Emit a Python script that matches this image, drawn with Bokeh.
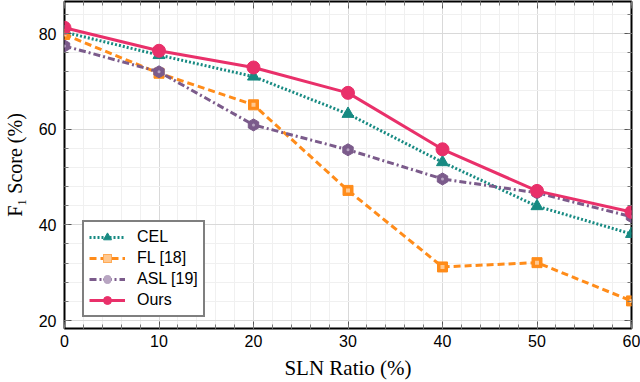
from bokeh.plotting import figure
from bokeh.models import (LinearAxis, SingleIntervalTicker, Range1d, Legend, LegendItem,
                          ColumnDataSource, CustomJSTickFormatter)
from bokeh.embed import file_html
from bokeh.resources import INLINE

# ---- data ----
sln_ratio = [0, 10, 20, 30, 40, 50, 60]
cel = [80.3, 75.5, 71.0, 63.2, 53.1, 43.9, 38.1]
fl = [79.8, 71.7, 65.1, 47.2, 31.2, 32.1, 24.1]
asl = [77.4, 72.0, 60.9, 55.7, 49.6, 46.7, 41.7]
ours = [81.2, 76.4, 72.9, 67.6, 55.8, 47.1, 42.7]
series_names = ["CEL", "FL [18]", "ASL [19]", "Ours"]

x_label = "SLN Ratio (%)"
y_label = "F\u2081 Score (%)"

TEAL = "#178a82"
ORANGE = "#ff8c1a"
PURPLE = "#7b5b8b"
PINK = "#e9306a"

src = ColumnDataSource(dict(x=sln_ratio, cel=cel, fl=fl, asl=asl, ours=ours))

p = figure(width=640, height=382, output_backend="svg", toolbar_location=None,
           x_range=Range1d(0, 60), y_range=Range1d(18.33, 86.7),
           min_border_left=61, min_border_top=1, min_border_right=9, min_border_bottom=53,
           x_axis_location=None, y_axis_location=None)
p.background_fill_color = "white"
p.border_fill_color = "white"
p.outline_line_color = "black"
p.outline_line_width = 2

xt = SingleIntervalTicker(interval=10, num_minor_ticks=5)
yt = SingleIntervalTicker(interval=20, num_minor_ticks=5)

def style_axis(ax, labels=True):
    ax.axis_line_color = None
    ax.major_tick_in = 7
    ax.major_tick_out = 0
    ax.minor_tick_in = 4
    ax.minor_tick_out = 0
    ax.major_tick_line_color = "#555555"
    ax.minor_tick_line_color = "#777777"
    if labels:
        ax.major_label_text_font = "Liberation Sans"
        ax.major_label_text_font_size = "16px"
        ax.major_label_text_color = "black"
        ax.axis_label_text_font = "Liberation Serif"
        ax.axis_label_text_font_size = "21px"
        ax.axis_label_text_font_style = "normal"
        ax.axis_label_text_color = "black"
    else:
        ax.formatter = CustomJSTickFormatter(code="return ''")
        ax.major_label_standoff = 0

xb = LinearAxis(ticker=xt, axis_label=x_label)
style_axis(xb)
xb.major_label_standoff = 6
xb.axis_label_standoff = 6
p.add_layout(xb, "below")

yl = LinearAxis(ticker=yt, axis_label=y_label)
style_axis(yl)
yl.axis_label_text_font_size = "20px"
yl.major_label_standoff = 8
yl.axis_label_standoff = 10
p.add_layout(yl, "left")

xa = LinearAxis(ticker=xt)
style_axis(xa, labels=False)
p.add_layout(xa, "above")
yr = LinearAxis(ticker=yt)
style_axis(yr, labels=False)
p.add_layout(yr, "right")

p.xgrid.ticker = xt
p.ygrid.ticker = yt
for g in (p.xgrid, p.ygrid):
    g.grid_line_color = "#d9d9d9"
    g.grid_line_width = 1
    g.minor_grid_line_color = "#f0f0f0"
    g.minor_grid_line_width = 1

# series
l_cel = p.line("x", "cel", source=src, line_color=TEAL, line_width=3, line_dash="2 2")
m_cel = p.scatter("x", "cel", source=src, marker="triangle", size=12, fill_color=TEAL, line_color=TEAL)

l_fl = p.line("x", "fl", source=src, line_color=ORANGE, line_width=3, line_dash="7 4")
m_fl = p.scatter("x", "fl", source=src, marker="square", size=10, fill_color=ORANGE, line_color=ORANGE)
m_fl2 = p.scatter("x", "fl", source=src, marker="square", size=4, fill_color="#ffc890", line_color=None)

l_asl = p.line("x", "asl", source=src, line_color=PURPLE, line_width=3, line_dash="7 3 2 3")
m_asl = p.scatter("x", "asl", source=src, marker="hex", size=12, angle=0.52, fill_color=PURPLE, line_color=PURPLE)
m_asl2 = p.scatter("x", "asl", source=src, marker="circle", size=3, fill_color="#b8a5c2", line_color=None)

l_ours = p.line("x", "ours", source=src, line_color=PINK, line_width=3)
m_ours = p.scatter("x", "ours", source=src, marker="circle", size=13, fill_color=PINK, line_color=PINK)

legend = Legend(items=[
    LegendItem(label=series_names[0], renderers=[l_cel, m_cel]),
    LegendItem(label=series_names[1], renderers=[l_fl, m_fl, m_fl2]),
    LegendItem(label=series_names[2], renderers=[l_asl, m_asl, m_asl2]),
    LegendItem(label=series_names[3], renderers=[l_ours, m_ours]),
], location=(18, 11))
legend.border_line_color = "black"
legend.border_line_width = 2
legend.background_fill_color = "white"
legend.background_fill_alpha = 1
legend.label_text_font = "Liberation Sans"
legend.label_text_font_size = "16px"
legend.label_text_color = "black"
legend.glyph_width = 36
legend.glyph_height = 20
legend.label_height = 20
legend.label_standoff = 12
legend.spacing = 1
legend.padding = 5
legend.margin = 0
p.add_layout(legend, "center")

open("out.html", "w").write(file_html(p, INLINE))
